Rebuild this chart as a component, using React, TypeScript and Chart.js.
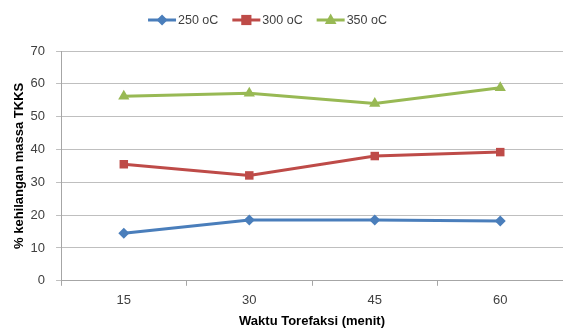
import React, { useEffect, useRef } from "react";
import { Chart, registerables } from "chart.js";

Chart.register(...registerables);

const categories = ["15", "30", "45", "60"];
const series250 = [14.5, 18.5, 18.5, 18.2];
const series300 = [35.5, 32.1, 38.0, 39.2];
const series350 = [56.2, 57.1, 54.0, 58.8];
const seriesLabels = ["250 oC", "300 oC", "350 oC"];
const colors = ["#4a7ebb", "#be4b48", "#98b954"];
const pointStyles = ["rectRot", "rect", "triangle"];
const pointRadii = [5.5, 6, 6.5];

const FONT = "'Liberation Sans', Arial, sans-serif";

function drawMarker(ctx: CanvasRenderingContext2D, style: string, r: number, x: number, y: number, color: string) {
  ctx.save();
  ctx.fillStyle = color;
  ctx.beginPath();
  if (style === "rectRot") {
    ctx.moveTo(x, y - r);
    ctx.lineTo(x + r, y);
    ctx.lineTo(x, y + r);
    ctx.lineTo(x - r, y);
  } else if (style === "rect") {
    const s = r * 0.85;
    ctx.rect(x - s, y - s, 2 * s, 2 * s);
  } else {
    ctx.moveTo(x, y - r);
    ctx.lineTo(x + r * 0.9, y + r * 0.6);
    ctx.lineTo(x - r * 0.9, y + r * 0.6);
  }
  ctx.closePath();
  ctx.fill();
  ctx.restore();
}

const legendPlugin = {
  id: "lineLegend",
  afterDraw(chart: any) {
    const ctx = chart.ctx;
    ctx.save();
    ctx.font = `12.5px ${FONT}`;
    ctx.textBaseline = "middle";
    const lineLen = 28;
    const gapAfterLine = 2;
    const itemGap = 14;
    const ds = chart.data.datasets;
    const widths = ds.map((d: any) => lineLen + gapAfterLine + ctx.measureText(d.label).width);
    const total = widths.reduce((a: number, b: number) => a + b, 0) + itemGap * (ds.length - 1);
    let x = (chart.width - total) / 2 - 14;
    const y = 20;
    ds.forEach((d: any, i: number) => {
      ctx.strokeStyle = d.borderColor;
      ctx.lineWidth = 3;
      ctx.beginPath();
      ctx.moveTo(x, y);
      ctx.lineTo(x + lineLen, y);
      ctx.stroke();
      drawMarker(ctx, d.pointStyle, d.pointRadius, x + lineLen / 2, y, d.backgroundColor);
      ctx.fillStyle = "#404040";
      ctx.textAlign = "left";
      ctx.fillText(d.label, x + lineLen + gapAfterLine, y + 1);
      x += widths[i] + itemGap;
    });
    ctx.restore();
  },
};

export default function App() {
  const ref = useRef<HTMLCanvasElement>(null);
  useEffect(() => {
    document.body.style.margin = "0";
    const allSeries = [series250, series300, series350];
    const chart = new Chart(ref.current!, {
      type: "line",
      data: {
        labels: categories,
        datasets: allSeries.map((s, i) => ({
          label: seriesLabels[i],
          data: s,
          borderColor: colors[i],
          backgroundColor: colors[i],
          borderWidth: 3,
          pointStyle: pointStyles[i] as any,
          pointRadius: pointRadii[i],
          pointBorderWidth: 0,
          tension: 0,
          clip: false as any,
        })),
      },
      options: {
        animation: false,
        responsive: false,
        layout: { autoPadding: false, padding: { top: 51, right: -3, left: 0, bottom: 0 } },
        plugins: {
          legend: { display: false },
          tooltip: { enabled: false },
        },
        scales: {
          x: {
            offset: true,
            grid: {
              offset: true,
              drawOnChartArea: false,
              drawTicks: true,
              tickLength: 5,
              color: "#a6a6a6",
            },
            border: { color: "#a6a6a6" },
            ticks: { color: "#404040", font: { family: FONT, size: 13 }, padding: 7 },
            title: {
              display: true,
              text: "Waktu Torefaksi (menit)",
              color: "#000",
              font: { family: FONT, size: 13, weight: "bold" },
              padding: { top: -2, bottom: 0 },
            },
          },
          y: {
            min: 0,
            max: 70,
            ticks: { stepSize: 10, color: "#404040", font: { family: FONT, size: 13 }, padding: 11 },
            grid: { color: "#bfbfbf", tickLength: 5, drawTicks: true },
            border: { color: "#a6a6a6" },
            title: {
              display: true,
              text: "% kehilangan massa TKKS",
              color: "#000",
              font: { family: FONT, size: 13, weight: "bold" },
              padding: { top: 12, bottom: -8 },
            },
          },
        },
      },
      plugins: [legendPlugin],
    });
    return () => chart.destroy();
  }, []);
  return <canvas ref={ref} width={563} height={329} style={{ display: "block" }} />;
}
